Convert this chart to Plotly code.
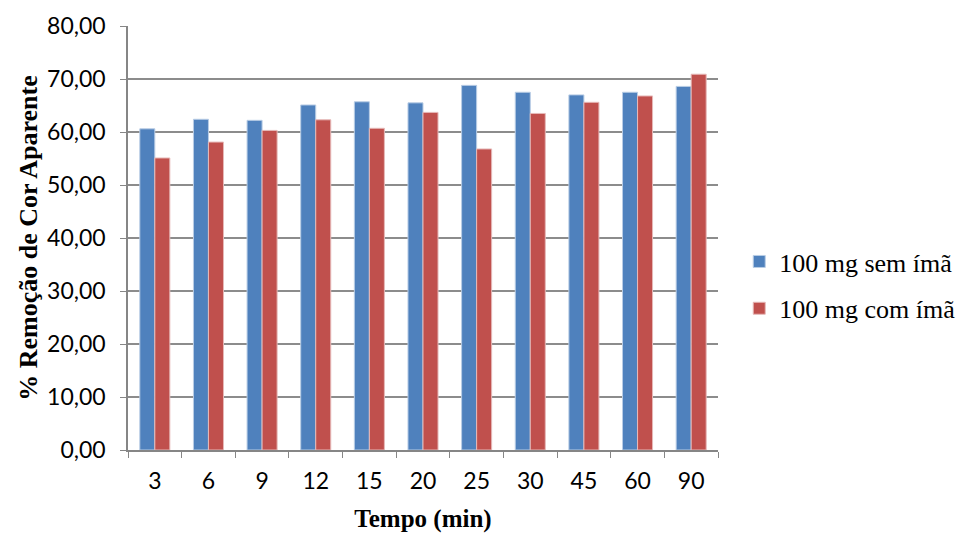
import plotly.graph_objects as go

tempo = ["3", "6", "9", "12", "15", "20", "25", "30", "45", "60", "90"]
sem_ima = [60.6, 62.4, 62.2, 65.1, 65.7, 65.5, 68.8, 67.5, 67.0, 67.5, 68.6]
com_ima = [55.1, 58.1, 60.3, 62.3, 60.7, 63.7, 56.8, 63.5, 65.6, 66.8, 70.9]
y_ticks = [0, 10, 20, 30, 40, 50, 60, 70, 80]
y_tick_text = [f"{v:.2f}".replace(".", ",") for v in y_ticks]

fig = go.Figure()
fig.add_trace(go.Bar(
    x=tempo, y=sem_ima, name="100 mg sem ímã", legendgroup="a",
    marker=dict(color="#4F81BD", line=dict(color="#B9CDE5", width=1)),
))
fig.add_trace(go.Bar(
    x=tempo, y=com_ima, name="100 mg com ímã", legendgroup="b",
    marker=dict(color="#C0504D", line=dict(color="#E6B9B8", width=1)),
))

fig.update_layout(
    width=962, height=538,
    margin=dict(l=128, r=244, t=26, b=88, autoexpand=False),
    paper_bgcolor="white", plot_bgcolor="white",
    barmode="group", bargap=0.44, bargroupgap=0,
    font=dict(family="Lato", size=23, color="black"),
    legend=dict(
        x=1.036, y=0.389, xanchor="left", yanchor="middle",
        font=dict(family="Liberation Serif", size=26, color="black"),
        tracegroupgap=10, traceorder="grouped",
    ),
    xaxis=dict(
        title=dict(text="<b>Tempo (min)</b>",
                   font=dict(family="Liberation Serif", size=25), standoff=16),
        showline=True, linecolor="#868686", linewidth=1.5,
        ticks="outside", tickson="boundaries", ticklen=6, tickcolor="#868686",
        tickfont=dict(family="Lato", size=23), showgrid=False,
        ticklabelstandoff=10,
    ),
    yaxis=dict(
        title=dict(text="<b>% Remoção de Cor Aparente</b>",
                   font=dict(family="Liberation Serif", size=26), standoff=2),
        range=[0, 80], tickvals=y_ticks, ticktext=y_tick_text,
        showline=True, linecolor="#868686", linewidth=1.5,
        ticks="outside", ticklen=6, tickcolor="#868686",
        showgrid=True, gridcolor="#8C8C8C", gridwidth=1.5,
        tickfont=dict(family="Lato", size=23), zeroline=False,
        ticklabelstandoff=10,
    ),
)

fig.write_html("out.html")
